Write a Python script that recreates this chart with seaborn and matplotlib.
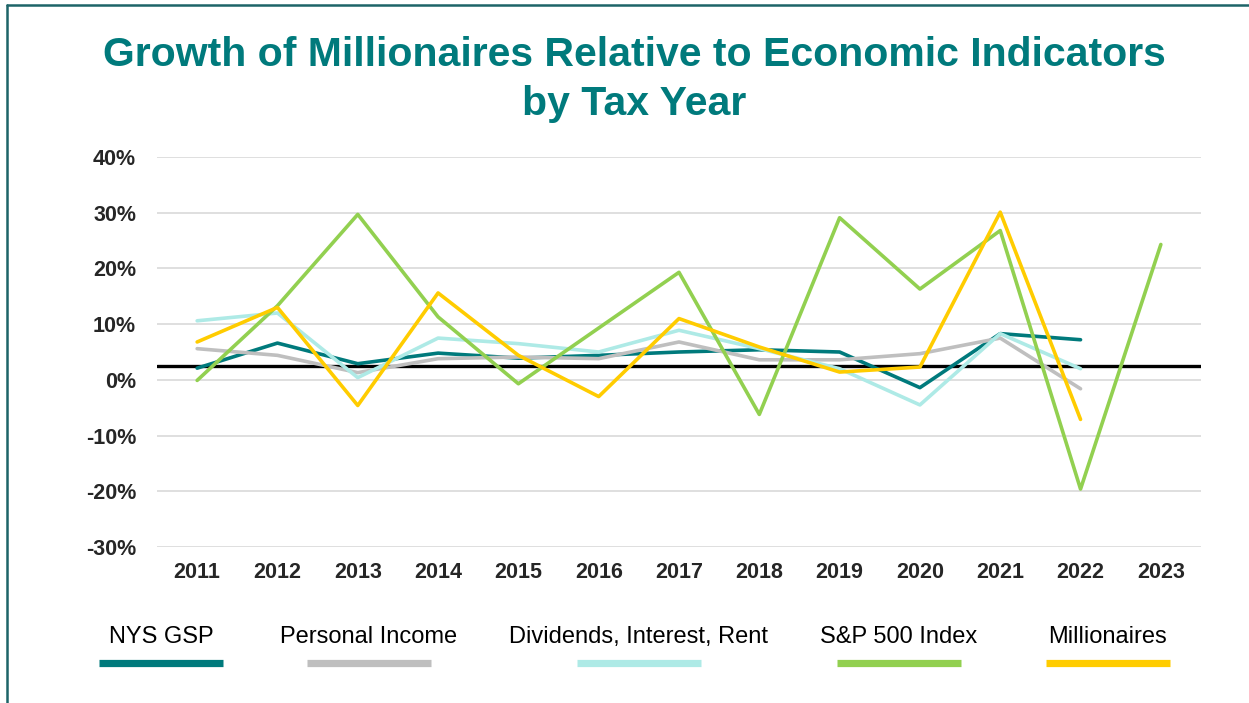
import numpy as np
import pandas as pd
import matplotlib
matplotlib.use("Agg")
import matplotlib.pyplot as plt
from matplotlib.lines import Line2D
import seaborn as sns

# Annual growth rates (%) by tax year
years = [2011, 2012, 2013, 2014, 2015, 2016, 2017, 2018, 2019, 2020, 2021, 2022, 2023]
nys_gsp = [2.1, 6.6, 2.9, 4.8, 3.9, 4.4, 5.0, 5.4, 5.0, -1.4, 8.3, 7.2, np.nan]
personal_income = [5.6, 4.4, 1.3, 3.8, 4.1, 3.8, 6.8, 3.6, 3.6, 4.7, 7.5, -1.6, np.nan]
dividends_interest_rent = [10.6, 12.0, 0.4, 7.5, 6.5, 5.0, 8.9, 5.6, 2.0, -4.5, 8.3, 2.0, np.nan]
sp500_index = [-0.1, 13.3, 29.7, 11.3, -0.7, 9.3, 19.3, -6.2, 29.1, 16.3, 26.8, -19.6, 24.3]
millionaires = [6.8, 13.0, -4.6, 15.6, 4.4, -3.0, 11.0, 5.9, 1.4, 2.3, 30.1, -7.1, np.nan]
baseline = 2.5

series_names = ["NYS GSP", "Personal Income", "Dividends, Interest, Rent",
                "S&P 500 Index", "Millionaires"]
series_values = [nys_gsp, personal_income, dividends_interest_rent, sp500_index, millionaires]
series_colors = ["#007A7C", "#BFBFBF", "#AEEAE6", "#92D050", "#FFCC00"]

y_ticks = [-30, -20, -10, 0, 10, 20, 30, 40]

df = pd.concat(
    [pd.DataFrame({"Year": years, "Growth": vals, "Series": name})
     for name, vals in zip(series_names, series_values)],
    ignore_index=True,
)

sns.set_theme(style="white")
plt.rcParams["font.family"] = ["Liberation Sans", "DejaVu Sans"]

W, H = 1249, 703
fig = plt.figure(figsize=(W / 100, H / 100), dpi=100)
ax = fig.add_axes([157 / W, 1 - 547 / H, (1201 - 157) / W, (547 - 157) / H])

# horizontal reference line
ax.axhline(baseline, color="black", linewidth=2.4, zorder=1.5)

sns.lineplot(
    data=df.dropna(), x="Year", y="Growth", hue="Series",
    hue_order=series_names, palette=dict(zip(series_names, series_colors)),
    linewidth=2.6, legend=False, ax=ax, zorder=3,
)

ax.set_xlim(years[0] - 0.5, years[-1] + 0.5)
ax.set_ylim(y_ticks[0], y_ticks[-1])
ax.set_xticks(years)
ax.set_xticklabels([str(y) for y in years], fontsize=15.5, fontweight="bold")
ax.set_yticks(y_ticks)
ax.set_yticklabels([f"{t}%" for t in y_ticks], fontsize=15.5, fontweight="bold")
ax.tick_params(axis="x", length=0, pad=11)
ax.tick_params(axis="y", length=0, pad=15)
ax.grid(axis="y", color="#D9D9D9", linewidth=1.2)
ax.grid(axis="x", visible=False)
for s in ax.spines.values():
    s.set_visible(False)
ax.set_xlabel("")
ax.set_ylabel("")

# title
fig.text(634 / W, 1 - 55 / H, "Growth of Millionaires Relative to Economic Indicators",
         ha="center", va="center", fontsize=29.5, fontweight="bold", color="#007A7C")
fig.text(634 / W, 1 - 104 / H, "by Tax Year",
         ha="center", va="center", fontsize=29.5, fontweight="bold", color="#007A7C")

# legend: label above a thick colour swatch
overlay = fig.add_axes([0, 0, 1, 1], facecolor="none")
overlay.set_xlim(0, W)
overlay.set_ylim(H, 0)
overlay.axis("off")
legend_centers = [161, 369, 639, 899, 1108]
for name, color, cx in zip(series_names, series_colors, legend_centers):
    overlay.text(cx, 637, name, ha="center", va="center", fontsize=17, color="black")
    overlay.add_line(Line2D([cx - 62, cx + 62], [662.5, 662.5], color=color,
                            linewidth=5.2, solid_capstyle="butt"))

# frame edges at top and left
overlay.add_line(Line2D([7, W], [5, 5], color="#1D6468", linewidth=1.8))
overlay.add_line(Line2D([7, 7], [5, H], color="#1D6468", linewidth=1.8))

fig.savefig("out.png", dpi=100, facecolor="white")
